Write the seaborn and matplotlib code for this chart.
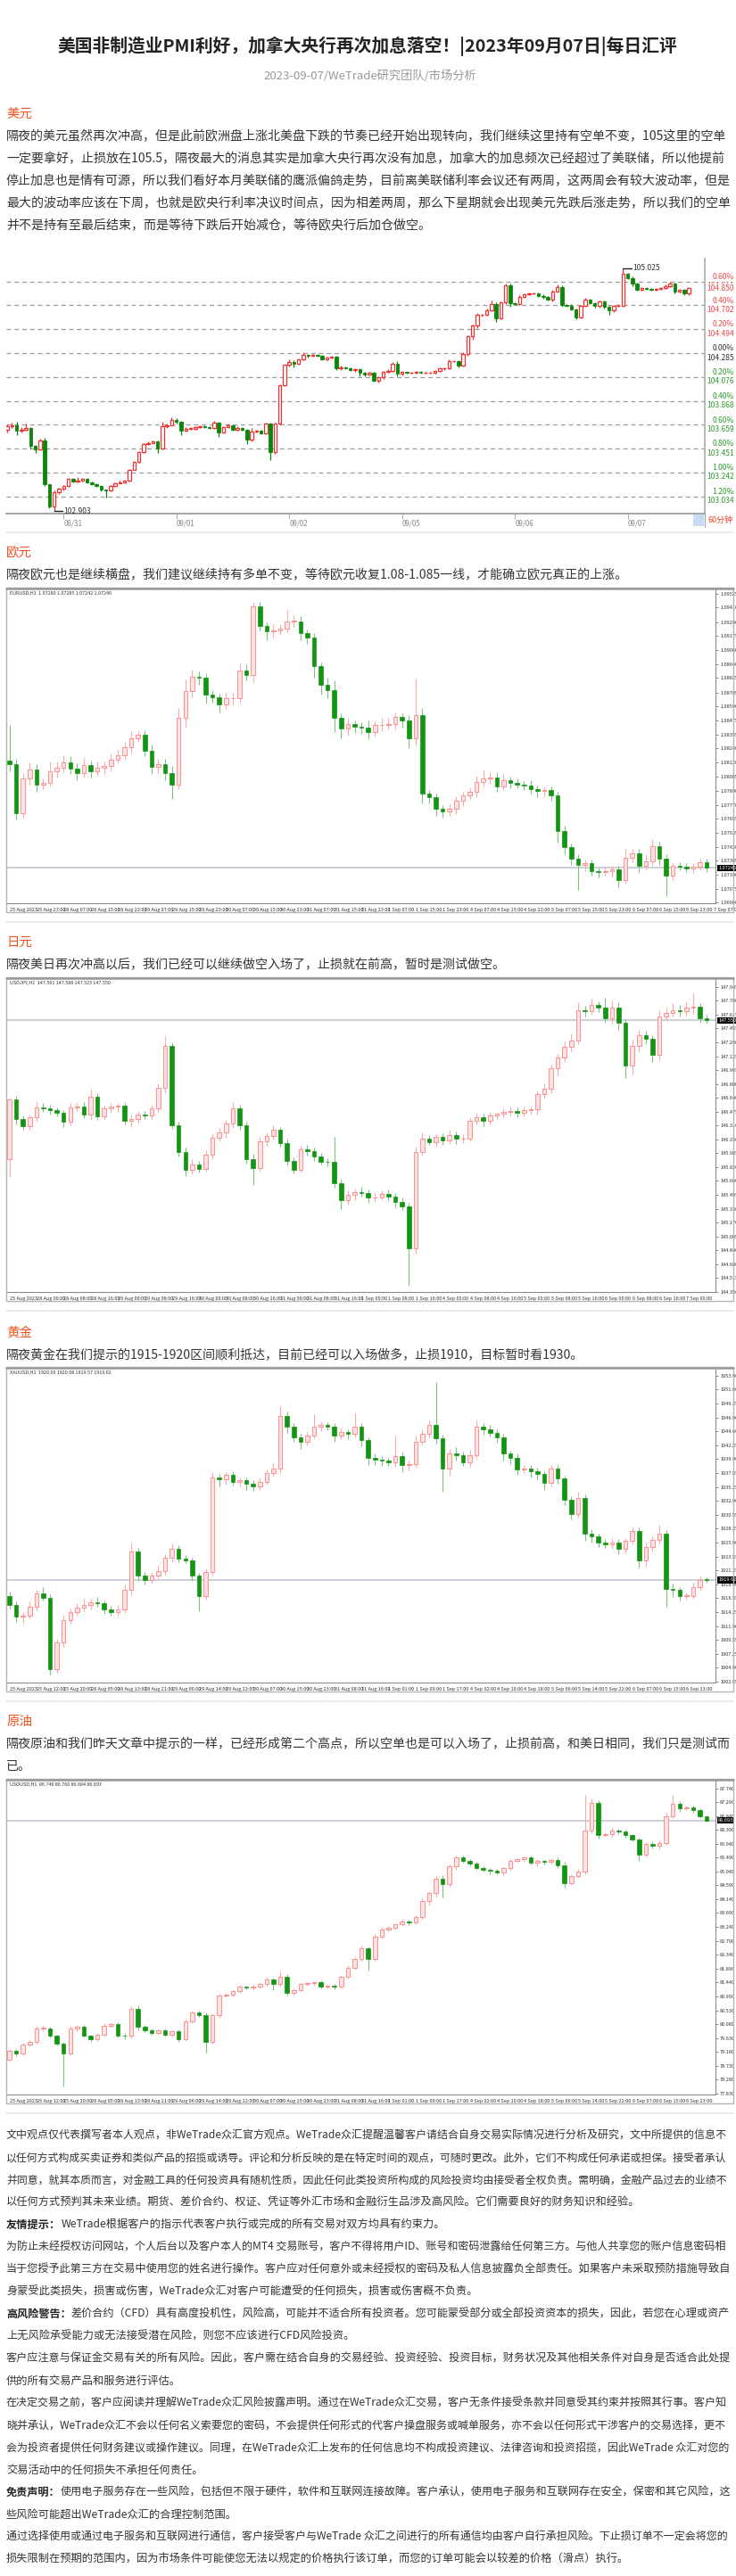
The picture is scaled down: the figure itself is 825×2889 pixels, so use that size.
import numpy as np
import pandas as pd
import matplotlib
matplotlib.use("Agg")
import matplotlib.pyplot as plt
from matplotlib.patches import Rectangle
from matplotlib.lines import Line2D
import matplotlib.transforms as mtransforms
import seaborn as sns

W, H = 825, 2889
PT = 0.72  # pixel -> point at dpi 100

sns.set_theme(style="white")
plt.rcParams['font.family'] = ['Noto Sans CJK SC', 'DejaVu Sans']
plt.rcParams['axes.unicode_minus'] = False

# ---------------- data ----------------
title = "美国非制造业PMI利好，加拿大央行再次加息落空！|2023年09月07日|每日汇评"
subtitle = "2023-09-07/WeTrade研究团队/市场分析"

usd_text = [
    "隔夜的美元虽然再次冲高，但是此前欧洲盘上涨北美盘下跌的节奏已经开始出现转向，我们继续这里持有空单不变，105这里的空单",
    "一定要拿好，止损放在105.5，隔夜最大的消息其实是加拿大央行再次没有加息，加拿大的加息频次已经超过了美联储，所以他提前",
    "停止加息也是情有可源，所以我们看好本月美联储的鹰派偏鸽走势，目前离美联储利率会议还有两周，这两周会有较大波动率，但是",
    "最大的波动率应该在下周，也就是欧央行利率决议时间点，因为相差两周，那么下星期就会出现美元先跌后涨走势，所以我们的空单",
    "并不是持有至最后结束，而是等待下跌后开始减仓，等待欧央行后加仓做空。",
]
eur_text = ["隔夜欧元也是继续横盘，我们建议继续持有多单不变，等待欧元收复1.08-1.085一线，才能确立欧元真正的上涨。"]
jpy_text = ["隔夜美日再次冲高以后，我们已经可以继续做空入场了，止损就在前高，暂时是测试做空。"]
gold_text = ["隔夜黄金在我们提示的1915-1920区间顺利抵达，目前已经可以入场做多，止损1910，目标暂时看1930。"]
oil_text = ["隔夜原油和我们昨天文章中提示的一样，已经形成第二个高点，所以空单也是可以入场了，止损前高，和美日相同，我们只是测试而",
            "已。"]

disclaimer = [
    ("", "文中观点仅代表撰写者本人观点，非WeTrade众汇官方观点。WeTrade众汇提醒温馨客户请结合自身交易实际情况进行分析及研究，文中所提供的信息不"),
    ("", "以任何方式构成买卖证券和类似产品的招揽或诱导。评论和分析反映的是在特定时间的观点，可随时更改。此外，它们不构成任何承诺或担保。接受者承认"),
    ("", "并同意，就其本质而言，对金融工具的任何投资具有随机性质，因此任何此类投资所构成的风险投资均由接受者全权负责。需明确，金融产品过去的业绩不"),
    ("", "以任何方式预判其未来业绩。期货、差价合约、权证、凭证等外汇市场和金融衍生品涉及高风险。它们需要良好的财务知识和经验。"),
    ("友情提示：", "WeTrade根据客户的指示代表客户执行或完成的所有交易对双方均具有约束力。"),
    ("", "为防止未经授权访问网站，个人后台以及客户本人的MT4 交易账号，客户不得将用户ID、账号和密码泄露给任何第三方。与他人共享您的账户信息密码相"),
    ("", "当于您授予此第三方在交易中使用您的姓名进行操作。客户应对任何意外或未经授权的密码及私人信息披露负全部责任。如果客户未采取预防措施导致自"),
    ("", "身蒙受此类损失，损害或伤害，WeTrade众汇对客户可能遭受的任何损失，损害或伤害概不负责。"),
    ("高风险警告：", "差价合约（CFD）具有高度投机性，风险高，可能并不适合所有投资者。您可能蒙受部分或全部投资资本的损失，因此，若您在心理或资产"),
    ("", "上无风险承受能力或无法接受潜在风险，则您不应该进行CFD风险投资。"),
    ("", "客户应注意与保证金交易有关的所有风险。因此，客户需在结合自身的交易经验、投资经验、投资目标，财务状况及其他相关条件对自身是否适合此处提"),
    ("", "供的所有交易产品和服务进行评估。"),
    ("", "在决定交易之前，客户应阅读并理解WeTrade众汇风险披露声明。通过在WeTrade众汇交易，客户无条件接受条款并同意受其约束并按照其行事。客户知"),
    ("", "晓并承认，WeTrade众汇不会以任何名义索要您的密码，不会提供任何形式的代客户操盘服务或喊单服务，亦不会以任何形式干涉客户的交易选择，更不"),
    ("", "会为投资者提供任何财务建议或操作建议。同理，在WeTrade众汇上发布的任何信息均不构成投资建议、法律咨询和投资招揽，因此WeTrade 众汇对您的"),
    ("", "交易活动中的任何损失不承担任何责任。"),
    ("免责声明：", "使用电子服务存在一些风险，包括但不限于硬件，软件和互联网连接故障。客户承认，使用电子服务和互联网存在安全，保密和其它风险，这"),
    ("", "些风险可能超出WeTrade众汇的合理控制范围。"),
    ("", "通过选择使用或通过电子服务和互联网进行通信，客户接受客户与WeTrade 众汇之间进行的所有通信均由客户自行承担风险。下止损订单不一定会将您的"),
    ("", "损失限制在预期的范围内，因为市场条件可能使您无法以规定的价格执行该订单，而您的订单可能会以较差的价格（滑点）执行。"),
]

# US dollar index, 60 min
usd_open0 = 103.618
usd_close = [
    103.644, 103.657, 103.610, 103.618, 103.631, 103.475, 103.444, 103.519, 103.138, 102.943,
    103.068, 103.099, 103.125, 103.185, 103.164, 103.174, 103.185, 103.159, 103.143, 103.125,
    103.091, 103.086, 103.125, 103.151, 103.159, 103.174, 103.267, 103.332, 103.423, 103.488,
    103.501, 103.514, 103.454, 103.644, 103.657, 103.704, 103.683, 103.605, 103.626, 103.626,
    103.636, 103.644, 103.636, 103.631, 103.678, 103.592, 103.639, 103.657, 103.618, 103.631,
    103.618, 103.527, 103.600, 103.605, 103.584, 103.670, 103.423, 103.670, 104.002, 104.181,
    104.207, 104.189, 104.228, 104.267, 104.259, 104.267, 104.264, 104.233, 104.246, 104.254,
    104.150, 104.163, 104.150, 104.137, 104.145, 104.111, 104.098, 104.111, 104.041, 104.072,
    104.119, 104.129, 104.189, 104.103, 104.119, 104.111, 104.114, 104.124, 104.114, 104.114,
    104.114, 104.129, 104.150, 104.150, 104.215, 104.215, 104.176, 104.280, 104.430, 104.526,
    104.617, 104.622, 104.661, 104.716, 104.591, 104.726, 104.877, 104.721, 104.716, 104.778,
    104.799, 104.804, 104.804, 104.786, 104.773, 104.752, 104.825, 104.864, 104.708, 104.700,
    104.669, 104.596, 104.695, 104.752, 104.721, 104.695, 104.734, 104.690, 104.656, 104.695,
    104.700, 104.975, 104.942, 104.890, 104.838, 104.856, 104.845, 104.840, 104.845, 104.856,
    104.872, 104.890, 104.819, 104.835, 104.804, 104.850,
]
usd_up = [
    15, 20, 30, 22, 35, 10, 10, 20, 25, 5,
    15, 10, 10, 12, 8, 30, 10, 8, 6, 8,
    5, 5, 10, 8, 10, 8, 5, 8, 6, 10,
    10, 8, 8, 40, 12, 20, 10, 8, 10, 10,
    8, 10, 8, 10, 12, 6, 8, 10, 8, 12,
    10, 8, 30, 8, 8, 10, 10, 8, 10, 6,
    20, 15, 10, 25, 10, 12, 8, 6, 10, 8,
    8, 10, 6, 8, 10, 6, 8, 8, 10, 8,
    10, 12, 15, 25, 8, 6, 6, 8, 6, 8,
    6, 8, 10, 8, 15, 10, 8, 10, 8, 10,
    20, 8, 12, 30, 10, 12, 15, 15, 10, 10,
    8, 12, 10, 8, 10, 8, 10, 20, 10, 8,
    10, 8, 10, 15, 10, 8, 12, 10, 8, 12,
    10, 50, 10, 15, 8, 6, 8, 6, 8, 6,
    10, 20, 10, 12, 8, 10,
]
usd_dn = [
    30, 12, 45, 15, 10, 20, 30, 10, 10, 13,
    40, 15, 12, 8, 10, 8, 10, 8, 10, 12,
    12, 60, 10, 8, 6, 10, 8, 6, 8, 8,
    8, 6, 45, 10, 10, 6, 10, 40, 8, 8,
    8, 8, 6, 8, 10, 40, 10, 8, 12, 8,
    10, 40, 10, 8, 10, 10, 70, 20, 6, 8,
    10, 25, 8, 6, 10, 8, 10, 8, 10, 8,
    10, 10, 8, 10, 12, 30, 15, 10, 8, 15,
    10, 8, 8, 20, 10, 8, 6, 8, 10, 8,
    8, 10, 8, 10, 8, 10, 12, 8, 15, 30,
    25, 10, 12, 10, 30, 10, 10, 30, 12, 10,
    8, 10, 8, 10, 10, 8, 12, 10, 15, 10,
    10, 15, 10, 8, 10, 10, 10, 12, 40, 15,
    8, 10, 10, 20, 10, 8, 10, 8, 10, 8,
    8, 10, 10, 8, 15, 10,
]
usd_levels = [104.911, 104.702, 104.494, 104.285, 104.076, 103.868, 103.659, 103.451, 103.242, 103.034]
usd_pct = ["0.60%", "0.40%", "0.20%", "0.00%", "0.20%", "0.40%", "0.60%", "0.80%", "1.00%", "1.20%"]
usd_days = ["08/31", "09/01", "09/02", "09/05", "09/06", "09/07"]
usd_day_idx = [12, 36, 60, 84, 108, 132]

# EURUSD H1 (two-hour steps)
eur_open0 = 1.08136
eur_close = [
    1.08111, 1.07703, 1.07988, 1.08062, 1.07938, 1.07950, 1.08049, 1.08081, 1.08123, 1.08074,
    1.08037, 1.08099, 1.08049, 1.08081, 1.08091, 1.08148, 1.08185, 1.08247, 1.08321, 1.08353,
    1.08222, 1.08086, 1.08111, 1.08037, 1.07938, 1.08494, 1.08716, 1.08832, 1.08827, 1.08684,
    1.08667, 1.08605, 1.08654, 1.08659, 1.08889, 1.08852, 1.09420, 1.09260, 1.09210, 1.09223,
    1.09235, 1.09297, 1.09297, 1.09198, 1.09161, 1.08926, 1.08765, 1.08724, 1.08494, 1.08407,
    1.08445, 1.08420, 1.08412, 1.08378, 1.08432, 1.08437, 1.08445, 1.08501, 1.08469, 1.08321,
    1.08519, 1.07864, 1.07834, 1.07741, 1.07716, 1.07741, 1.07802, 1.07852, 1.07876, 1.07963,
    1.07988, 1.08000, 1.07926, 1.07975, 1.07950, 1.07938, 1.07933, 1.07901, 1.07884, 1.07894,
    1.07852, 1.07555, 1.07420, 1.07321, 1.07271, 1.07284, 1.07222, 1.07210, 1.07217, 1.07234,
    1.07143, 1.07333, 1.07365, 1.07266, 1.07301, 1.07424, 1.07321, 1.07185, 1.07266, 1.07259,
    1.07242, 1.07259, 1.07291, 1.07246,
]
eur_up = [
    30, 4, 5, 6, 5, 4, 8, 5, 6, 5,
    4, 6, 4, 5, 4, 5, 4, 5, 6, 3,
    4, 5, 4, 4, 6, 8, 10, 6, 5, 4,
    4, 3, 5, 4, 6, 5, 3, 4, 3, 5,
    4, 9, 5, 4, 3, 4, 3, 6, 8, 4,
    5, 3, 4, 6, 3, 6, 5, 4, 3, 5,
    30, 6, 3, 3, 3, 4, 4, 3, 4, 5,
    8, 4, 4, 5, 3, 4, 3, 4, 3, 3,
    3, 3, 4, 3, 4, 3, 3, 3, 4, 3,
    3, 8, 4, 4, 6, 6, 4, 4, 3, 3,
    3, 3, 3, 3,
]
eur_dn = [
    6, 5, 4, 5, 6, 4, 3, 5, 4, 5,
    6, 4, 5, 4, 5, 4, 3, 4, 5, 3,
    5, 6, 5, 6, 12, 4, 8, 5, 6, 7,
    5, 7, 4, 5, 4, 5, 6, 4, 7, 5,
    4, 3, 5, 6, 5, 10, 8, 7, 12, 8,
    6, 5, 5, 6, 4, 5, 4, 5, 6, 8,
    6, 8, 5, 6, 5, 4, 5, 4, 3, 4,
    4, 4, 5, 3, 4, 3, 4, 4, 5, 4,
    5, 10, 6, 5, 21, 5, 4, 4, 3, 5,
    6, 3, 4, 5, 4, 4, 5, 17, 4, 3,
    3, 4, 3, 3,
]
eur_ticks = [1.09525, 1.09410, 1.09290, 1.09175, 1.09060, 1.08940, 1.08825, 1.08705, 1.08590, 1.08475,
             1.08355, 1.08240, 1.08120, 1.08005, 1.07890, 1.07770, 1.07655, 1.07535, 1.07420, 1.07305,
             1.07190, 1.07075, 1.06960]
eur_dates = ["25 Aug 2023", "25 Aug 23:00", "28 Aug 07:00", "28 Aug 15:00", "28 Aug 23:00", "29 Aug 07:00",
             "29 Aug 15:00", "29 Aug 23:00", "30 Aug 07:00", "30 Aug 15:00", "30 Aug 23:00", "31 Aug 07:00",
             "31 Aug 15:00", "31 Aug 23:00", "1 Sep 07:00", "1 Sep 15:00", "1 Sep 23:00", "4 Sep 07:00",
             "4 Sep 15:00", "4 Sep 23:00", "5 Sep 07:00", "5 Sep 15:00", "5 Sep 23:00", "6 Sep 07:00",
             "6 Sep 15:00", "6 Sep 23:00", "7 Sep 07:00"]

# USDJPY H1 (two-hour steps)
jpy_open0 = 145.915
jpy_close = [
    146.615, 146.388, 146.307, 146.405, 146.528, 146.517, 146.493, 146.458, 146.353, 146.528,
    146.538, 146.440, 146.650, 146.423, 146.510, 146.535, 146.542, 146.370, 146.388, 146.440,
    146.433, 146.510, 146.755, 147.246, 146.318, 146.003, 145.793, 145.852, 145.803, 145.968,
    146.167, 146.230, 146.335, 146.510, 146.318, 145.915, 145.810, 146.125, 146.188, 146.258,
    146.108, 145.898, 145.793, 146.027, 146.013, 145.943, 145.887, 145.880, 145.635, 145.432,
    145.495, 145.530, 145.516, 145.460, 145.467, 145.509, 145.477, 145.411, 145.362, 144.865,
    146.003, 146.153, 146.118, 146.174, 146.132, 146.202, 146.153, 146.160, 146.370, 146.412,
    146.363, 146.433, 146.447, 146.475, 146.482, 146.458, 146.493, 146.503, 146.678, 146.748,
    146.983, 147.113, 147.239, 147.316, 147.666, 147.659, 147.729, 147.701, 147.578, 147.701,
    147.519, 147.018, 147.246, 147.379, 147.333, 147.141, 147.596, 147.638, 147.673, 147.659,
    147.701, 147.708, 147.578, 147.550,
]
jpy_up = [
    2, 5, 4, 4, 6, 5, 4, 3, 4, 5,
    4, 5, 9, 4, 5, 4, 3, 4, 5, 4,
    4, 5, 5, 12, 4, 4, 5, 6, 4, 5,
    4, 5, 4, 8, 5, 4, 6, 5, 4, 6,
    4, 5, 4, 5, 6, 4, 5, 4, 30, 4,
    5, 4, 6, 4, 5, 4, 5, 4, 5, 4,
    6, 8, 5, 4, 5, 6, 4, 5, 4, 5,
    4, 4, 3, 4, 5, 4, 4, 3, 5, 6,
    5, 4, 6, 8, 10, 6, 8, 5, 12, 8,
    6, 5, 8, 6, 5, 4, 7, 6, 8, 6,
    7, 16, 5, 4,
]
jpy_dn = [
    21, 6, 5, 4, 5, 4, 5, 4, 6, 4,
    5, 4, 6, 5, 4, 5, 6, 4, 8, 5,
    4, 5, 4, 6, 5, 6, 8, 6, 5, 4,
    5, 4, 6, 5, 6, 5, 20, 4, 5, 4,
    5, 6, 5, 4, 6, 5, 4, 5, 6, 10,
    5, 6, 4, 6, 5, 4, 5, 6, 5, 44,
    6, 5, 4, 6, 5, 4, 6, 5, 4, 5,
    6, 4, 5, 4, 4, 5, 4, 5, 6, 5,
    6, 8, 5, 6, 5, 6, 4, 5, 6, 7,
    8, 15, 10, 6, 5, 8, 6, 5, 4, 6,
    5, 7, 6, 4,
]
jpy_ticks = [147.945, 147.780, 147.615, 147.455, 147.290, 147.125, 146.965, 146.800, 146.640, 146.475,
             146.310, 146.150, 145.985, 145.820, 145.660, 145.495, 145.330, 145.170, 145.005, 144.840,
             144.680, 144.515, 144.350]
jpy_dates = ["25 Aug 2023", "28 Aug 00:00", "28 Aug 08:00", "28 Aug 16:00", "29 Aug 00:00", "29 Aug 08:00",
             "29 Aug 16:00", "30 Aug 00:00", "30 Aug 08:00", "30 Aug 16:00", "31 Aug 00:00", "31 Aug 08:00",
             "31 Aug 16:00", "1 Sep 00:00", "1 Sep 08:00", "1 Sep 16:00", "4 Sep 00:00", "4 Sep 08:00",
             "4 Sep 16:00", "5 Sep 00:00", "5 Sep 08:00", "5 Sep 16:00", "6 Sep 00:00", "6 Sep 08:00",
             "6 Sep 16:00", "7 Sep 00:00"]

# XAUUSD H1 (two-hour steps)
gold_open0 = 1916.92
gold_close = [
    1915.42, 1913.43, 1913.68, 1915.17, 1917.42, 1916.67, 1904.70, 1909.19, 1912.93, 1914.18,
    1914.93, 1915.42, 1915.92, 1915.67, 1914.68, 1914.18, 1914.68, 1917.92, 1924.41, 1920.41,
    1919.67, 1920.41, 1921.16, 1923.41, 1924.91, 1923.16, 1922.91, 1920.41, 1916.92, 1920.91,
    1936.88, 1936.48, 1937.28, 1936.13, 1936.38, 1935.78, 1935.38, 1936.13, 1937.63, 1938.38,
    1947.11, 1945.36, 1943.62, 1942.87, 1943.87, 1945.36, 1945.61, 1945.36, 1943.87, 1944.46,
    1944.11, 1945.36, 1943.12, 1940.13, 1939.88, 1939.63, 1939.38, 1940.38, 1938.88, 1939.13,
    1942.87, 1944.11, 1945.61, 1943.37, 1938.38, 1940.87, 1940.63, 1939.38, 1940.63, 1945.36,
    1944.86, 1944.36, 1943.62, 1940.87, 1940.13, 1938.13, 1938.38, 1937.88, 1937.38, 1935.88,
    1938.38, 1936.63, 1933.14, 1930.64, 1933.39, 1927.40, 1926.90, 1925.90, 1925.65, 1925.90,
    1924.90, 1926.15, 1927.90, 1922.91, 1925.15, 1926.40, 1927.40, 1918.17, 1917.92, 1916.92,
    1916.92, 1918.42, 1919.67, 1919.62,
]
gold_up = [
    8, 6, 5, 8, 6, 10, 5, 6, 8, 6,
    8, 10, 6, 8, 5, 6, 8, 10, 15, 6,
    5, 6, 8, 6, 8, 5, 6, 5, 4, 6,
    8, 6, 5, 6, 5, 4, 6, 5, 6, 8,
    17, 8, 6, 5, 8, 21, 6, 5, 6, 8,
    5, 22, 6, 5, 8, 6, 5, 35, 6, 5,
    10, 8, 8, 72, 6, 8, 10, 6, 8, 10,
    6, 8, 5, 6, 5, 8, 6, 5, 6, 5,
    5, 6, 5, 6, 10, 6, 8, 5, 6, 8,
    6, 5, 5, 6, 8, 6, 15, 6, 8, 5,
    6, 8, 6, 4,
]
gold_dn = [
    6, 8, 10, 5, 6, 5, 10, 6, 8, 6,
    5, 6, 8, 6, 8, 6, 5, 6, 8, 10,
    8, 6, 5, 6, 8, 6, 5, 10, 25, 6,
    6, 12, 8, 6, 8, 10, 8, 6, 5, 6,
    8, 10, 8, 12, 6, 5, 8, 6, 10, 6,
    8, 6, 10, 12, 10, 8, 6, 8, 10, 8,
    6, 5, 6, 8, 40, 12, 10, 6, 8, 6,
    8, 6, 10, 12, 10, 8, 6, 10, 8, 12,
    6, 8, 10, 8, 6, 12, 10, 8, 6, 8,
    10, 8, 6, 12, 10, 8, 6, 30, 12, 8,
    6, 5, 6, 4,
]
gold_ticks = [1953.90, 1951.60, 1949.25, 1946.90, 1944.60, 1942.25, 1939.90, 1937.55, 1935.25, 1932.90,
              1930.55, 1928.25, 1925.90, 1923.55, 1921.25, 1918.90, 1916.55, 1914.25, 1911.90, 1909.55,
              1907.25, 1904.90, 1902.55]
cfd_dates = ["25 Aug 2023", "25 Aug 12:00", "25 Aug 20:00", "28 Aug 05:00", "28 Aug 13:00", "28 Aug 21:00",
             "29 Aug 06:00", "29 Aug 14:00", "29 Aug 22:00", "30 Aug 07:00", "30 Aug 15:00", "30 Aug 23:00",
             "31 Aug 08:00", "31 Aug 16:00", "1 Sep 01:00", "1 Sep 09:00", "1 Sep 17:00", "4 Sep 02:00",
             "4 Sep 10:00", "4 Sep 18:00", "5 Sep 06:00", "5 Sep 14:00", "5 Sep 22:00", "6 Sep 07:00",
             "6 Sep 15:00", "6 Sep 23:00"]

# USOUSD H1 (two-hour steps)
oil_open0 = 78.930
oil_close = [
    79.219, 79.122, 79.412, 79.508, 79.942, 79.942, 79.701, 79.460, 79.122, 79.942,
    79.990, 79.701, 79.605, 79.749, 80.039, 80.087, 79.720, 79.701, 80.569, 79.990,
    79.894, 79.798, 79.875, 79.749, 79.846, 79.605, 80.183, 80.473, 80.377, 79.508,
    80.377, 81.003, 81.051, 81.148, 81.293, 81.264, 81.293, 81.389, 81.534, 81.389,
    81.630, 81.100, 81.196, 81.389, 81.418, 81.437, 81.293, 81.322, 81.293, 81.630,
    81.919, 82.209, 82.546, 82.209, 82.932, 83.154, 83.222, 83.318, 83.414, 83.385,
    83.559, 84.090, 84.331, 84.813, 84.620, 85.199, 85.488, 85.392, 85.295, 85.151,
    85.103, 85.054, 85.006, 85.151, 85.392, 85.440, 85.488, 85.315, 85.372, 85.343,
    85.411, 85.247, 84.668, 84.890, 85.035, 86.356, 87.273, 86.212, 86.241, 86.356,
    86.337, 86.212, 86.067, 85.585, 85.922, 85.874, 85.970, 86.838, 87.244, 87.080,
    87.109, 87.032, 86.819, 86.693,
]
oil_up = [
    5, 6, 8, 5, 10, 8, 6, 5, 6, 8,
    6, 8, 5, 6, 8, 6, 5, 8, 10, 12,
    6, 5, 8, 6, 5, 6, 8, 6, 5, 8,
    6, 8, 5, 6, 8, 5, 6, 5, 8, 6,
    15, 8, 6, 5, 6, 5, 6, 5, 8, 6,
    8, 6, 10, 6, 8, 10, 6, 5, 8, 6,
    6, 10, 8, 12, 10, 8, 6, 8, 6, 5,
    6, 5, 8, 6, 8, 6, 5, 8, 6, 5,
    6, 8, 10, 6, 8, 116, 14, 8, 6, 10,
    8, 6, 5, 8, 6, 10, 8, 10, 27, 8,
    6, 8, 5, 4,
]
oil_dn = [
    5, 8, 6, 5, 6, 8, 6, 8, 106, 6,
    8, 5, 10, 6, 5, 8, 6, 10, 8, 12,
    8, 6, 5, 8, 6, 10, 6, 8, 6, 34,
    6, 8, 5, 6, 5, 6, 8, 5, 6, 20,
    8, 10, 6, 5, 6, 8, 5, 6, 8, 6,
    6, 8, 6, 39, 6, 8, 5, 6, 5, 8,
    6, 8, 15, 10, 43, 8, 10, 6, 8, 6,
    8, 10, 6, 12, 8, 6, 8, 6, 10, 8,
    6, 10, 15, 8, 6, 10, 8, 12, 6, 8,
    10, 8, 6, 19, 8, 10, 12, 8, 6, 10,
    6, 8, 6, 5,
]
oil_ticks = [87.740, 87.290, 86.840, 86.390, 85.940, 85.490, 85.040, 84.590, 84.140, 83.690,
             83.240, 82.790, 82.340, 81.890, 81.440, 80.990, 80.530, 80.080, 79.630, 79.180,
             78.730, 78.280, 77.830]

# ---------------- helpers ----------------
fig = plt.figure(figsize=(W / 100, H / 100), dpi=100)
fig.patch.set_facecolor("white")
renderer = fig.canvas.get_renderer()


def box(x0, y0, x1, y1):
    return [x0 / W, 1 - y1 / H, (x1 - x0) / W, (y1 - y0) / H]


def txt(x, y, s, px, color="#333333", **kw):
    return fig.text(x / W, 1 - y / H, s, fontsize=px * PT, color=color, va="center", **kw)


def fit(t, x0, x1):
    # shrink a text only when it runs past the right edge
    bb = t.get_window_extent(renderer)
    if bb.x1 > x1:
        t.set_fontsize(t.get_fontsize() * (x1 - x0) / (bb.x1 - x0))


def hline(y, x0=7, x1=822, color="#e8e8e8", lw=1.2):
    fig.add_artist(Line2D([x0 / W, x1 / W], [1 - y / H, 1 - y / H], color=color, lw=lw))


def ohlc(close, up, dn, first_open, unit):
    df = pd.DataFrame({"close": close})
    df["open"] = df["close"].shift(1).fillna(first_open)
    body_hi = df[["open", "close"]].max(axis=1)
    body_lo = df[["open", "close"]].min(axis=1)
    df["high"] = body_hi + np.array(up) * unit
    df["low"] = body_lo - np.array(dn) * unit
    return df


def draw_candles(ax, x, df, width, up_st, dn_st, min_h):
    rise = (df["close"] >= df["open"]).to_numpy()
    for mask, st in ((rise, up_st), (~rise, dn_st)):
        d = df[mask]
        xs = x[mask]
        ax.vlines(xs, d["low"], d["high"], color=st["wick"], lw=st["lw"], zorder=2)
        h = (d["close"] - d["open"]).abs().clip(lower=min_h)
        ax.bar(xs, h, bottom=d[["open", "close"]].min(axis=1), width=width,
               color=st["face"], edgecolor=st["edge"], linewidth=st["elw"], zorder=3)


def section(y_head, name, lines, y0):
    txt(7, y_head, name, 14.5, color="#f4511e")
    for i, s in enumerate(lines):
        t = txt(7, y0 + 25 * i, s, 14.0, color="#333333")
        fit(t, 7, 818)


# ---------------- header ----------------
t = txt(412, 52, title, 20.5, color="#222222", ha="center", fontweight="bold")
bb = t.get_window_extent(renderer)
t.set_fontsize(t.get_fontsize() * 696 / bb.width)
txt(415, 85, subtitle, 13.2, color="#999999", ha="center")

# ---------------- USD index ----------------
section(128, "美元", usd_text, 153)

ax = fig.add_axes(box(7, 290, 790, 576))
usd = ohlc(usd_close, usd_up, usd_dn, usd_open0, 0.001)
xi = np.arange(len(usd))
for lv in usd_levels:
    ax.axhline(lv, color="#9c9c9c", lw=0.9, ls=(0, (4, 3)), zorder=1)
draw_candles(ax, xi, usd, 0.66,
             dict(face="white", edge="#f23030", wick="#f23030", lw=0.9, elw=0.9),
             dict(face="#0b860b", edge="#0b860b", wick="#0b860b", lw=0.9, elw=0.6), 0.003)
ax.set_xlim(-0.19, 148.39)
ax.set_ylim(102.883, 105.1105)
sns.despine(ax=ax, left=True, top=True, right=False, bottom=False)
ax.spines["bottom"].set_color("#9a9a9a")
ax.spines["right"].set_color("#b0b0b0")
ax.set_yticks([])
ax.set_xticks(usd_day_idx)
ax.set_xticklabels(usd_days, ha="left")
ax.tick_params(axis="x", length=4, width=0.8, color="#b0b0b0", direction="out",
               labelsize=8 * PT, labelcolor="#888888", pad=1, bottom=True)
tr = mtransforms.blended_transform_factory(ax.transAxes, ax.transData)
xr = (823 - 7) / 783
for i, (lv, pc) in enumerate(zip(usd_levels, usd_pct)):
    col = "#f04848" if i < 3 else ("#333333" if i == 3 else "#2f9a2f")
    ax.text(xr, lv + 0.006, pc, transform=tr, ha="right", va="bottom", fontsize=8.5 * PT, color=col, clip_on=False)
    ax.text(xr, lv - 0.004, f"{lv:.3f}", transform=tr, ha="right", va="top", fontsize=8.5 * PT, color=col, clip_on=False)
last = usd_close[-1]
ax.text(xr, last, f"{last:.3f}", transform=tr, ha="right", va="center", fontsize=8.5 * PT, color="#f04848",
        clip_on=False, bbox=dict(boxstyle="square,pad=0.1", fc="white", ec="none"))
hi_i = int(usd["high"].idxmax())
lo_i = int(usd["low"].idxmin())
hi_v, lo_v = usd["high"].max(), usd["low"].min()
ax.plot([hi_i, hi_i + 1.8], [hi_v, hi_v], color="#222222", lw=1)
ax.text(hi_i + 2.0, hi_v, f"{hi_v:.3f}", fontsize=8.5 * PT, color="#333333", va="center")
ax.plot([lo_i, lo_i + 1.8], [lo_v, lo_v], color="#222222", lw=1)
ax.text(lo_i + 2.0, lo_v, f"{lo_v:.3f}", fontsize=8.5 * PT, color="#333333", va="center")
fig.add_artist(Line2D([790 / W, 790 / W], [1 - 576 / H, 1 - 591 / H], color="#b0b0b0", lw=1))
fig.add_artist(Rectangle((777 / W, 1 - 590 / H), 12 / W, 13 / H, transform=fig.transFigure,
                         fc="#c6dcf4", ec="none"))
txt(793, 583, "60分钟", 9, color="#e8452c")
hline(597)

# ---------------- MT4 charts ----------------
UP = dict(face="#ffe3e3", edge="#ff8f8f", wick="#ffa8a8", lw=0.8, elw=0.7)
DN = dict(face="#139413", edge="#139413", wick="#7cc47c", lw=0.8, elw=0.5)


def mt4(top, axis_y, close, up, dn, first_open, unit, ylim, ticks, fmt, dates, info):
    bottom = axis_y + 10
    fig.add_artist(Rectangle((7 / W, 1 - bottom / H), 815 / W, (bottom - top) / H,
                             transform=fig.transFigure, fill=False, ec="#b4b4b4", lw=1.0))
    fig.add_artist(Line2D([7 / W, 822 / W], [1 - (top + 0.5) / H] * 2, color="#9a9a9a", lw=1.8))
    ax = fig.add_axes(box(8, top + 2, 802, axis_y))
    df = ohlc(close, up, dn, first_open, unit)
    hours = 2 * np.arange(len(df))
    lastv = df["close"].iloc[-1]
    ax.axhline(lastv, color="#c3c8d2", lw=1.2, zorder=1)
    draw_candles(ax, hours, df, 1.2, UP, DN, (ylim[1] - ylim[0]) * 0.002)
    ax.set_xlim(-0.66, 208.6)
    ax.set_ylim(*ylim)
    sns.despine(ax=ax, left=True, top=True, right=False, bottom=False)
    for s in ("right", "bottom"):
        ax.spines[s].set_color("#8c8c8c")
        ax.spines[s].set_linewidth(0.8)
    ax.yaxis.tick_right()
    ax.set_yticks(ticks)
    ax.set_yticklabels([fmt.format(t) for t in ticks])
    ax.set_xticks(8 * np.arange(len(dates)))
    ax.set_xticklabels(dates, ha="left")
    ax.tick_params(axis="both", length=2.5, width=0.6, color="#777777", direction="out",
                   labelsize=5.6 * PT, labelcolor="#333333", pad=1.2)
    tr = mtransforms.blended_transform_factory(ax.transAxes, ax.transData)
    ax.text(1.004, lastv, fmt.format(lastv), transform=tr, ha="left", va="center", fontsize=5.6 * PT,
            color="white", clip_on=False, bbox=dict(boxstyle="square,pad=0.2", fc="black", ec="none"))
    ax.text(0.004, 0.994, info, transform=ax.transAxes, ha="left", va="top", fontsize=5.4 * PT, color="#333333")
    hline(bottom + 11)
    return ax


section(620, "欧元", eur_text, 645)
mt4(659, 1013, eur_close, eur_up, eur_dn, eur_open0, 0.0001, (1.06953, 1.09561), eur_ticks, "{:.5f}",
    eur_dates, "EURUSD,H1  1.07280 1.07285 1.07242 1.07246")

section(1057, "日元", jpy_text, 1082)
mt4(1096, 1449, jpy_close, jpy_up, jpy_dn, jpy_open0, 0.01, (144.35, 148.037), jpy_ticks, "{:.3f}",
    jpy_dates, "USDJPY,H1  147.561 147.588 147.523 147.550")

section(1495, "黄金", gold_text, 1520)
mt4(1533, 1887, gold_close, gold_up, gold_dn, gold_open0, 0.1, (1902.40, 1955.09), gold_ticks, "{:.2f}",
    cfd_dates, "XAUUSD,H1  1920.00 1920.08 1919.57 1919.62")

section(1931, "原油", oil_text, 1956)
mt4(1995, 2349, oil_close, oil_up, oil_dn, oil_open0, 0.01, (77.80, 87.986), oil_ticks, "{:.3f}",
    cfd_dates, "USOUSD,H1  86.746 86.760 86.684 86.693")

# ---------------- disclaimer ----------------
for i, (bold, rest) in enumerate(disclaimer):
    y = 2395 + 25 * i
    px = 12.2
    for attempt in range(2):
        parts = []
        x = 7
        if bold:
            tb = txt(x, y, bold, px, color="#222222", fontweight="bold")
            parts.append(tb)
            x = tb.get_window_extent(renderer).x1
        tr_ = txt(x, y, rest, px, color="#333333")
        parts.append(tr_)
        right = tr_.get_window_extent(renderer).x1
        if right <= 819 or attempt == 1:
            break
        for p in parts:
            p.remove()
        px = px * (819 - 7) / (right - 7)

fig.savefig("out.png", dpi=100, facecolor="white")
